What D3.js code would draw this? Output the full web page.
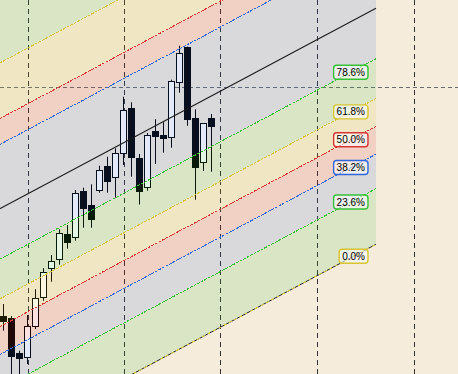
<!DOCTYPE html>
<html>
<head>
<meta charset="utf-8">
<script src="https://cdn.jsdelivr.net/npm/d3@7"></script>
<style>
  html, body { margin: 0; padding: 0; background: #f5ecdc; overflow: hidden; }
  svg { display: block; }
</style>
</head>
<body>
<svg id="chart"></svg>
<script>
// candles, one per bar (bar 0 is the left-most)
const opens  = [105.80, 105.63, 102.07, 101.73, 104.83, 107.75, 110.57, 111.55, 113.98, 113.73, 118.30, 116.88, 118.43, 120.77,
                119.67, 122.07, 126.57, 121.60, 118.67, 124.28, 123.90, 123.75, 129.25, 132.70, 125.58, 121.25, 125.60];
const closes = [105.33, 101.83, 101.57, 104.77, 107.57, 110.17, 111.27, 114.07, 113.15, 118.07, 116.63, 115.53, 120.37, 119.33,
                122.07, 126.40, 121.65, 118.33, 123.88, 123.85, 123.63, 129.30, 132.08, 125.53, 120.73, 125.07, 124.83];
const highs  = [107.00, 105.80, 102.33, 105.90, 108.48, 110.58, 111.90, 114.47, 114.90, 118.40, 118.63, 118.97, 120.83, 121.73,
                122.57, 127.73, 127.17, 122.00, 124.10, 125.48, 125.18, 129.43, 132.83, 132.75, 126.47, 125.10, 126.00];
const lows   = [104.33,  99.00,  99.20, 101.00, 104.50, 107.32, 109.23, 110.93, 112.53, 113.33, 114.63, 114.63, 118.13, 118.13,
                117.63, 120.90, 119.73, 116.95, 118.33, 121.00, 122.13, 122.63, 128.13, 124.82, 117.43, 120.30, 120.23];

// fib channel
const channelStart = { bar: 0, price: 93.12 };
const channelEnd   = { bar: 46.56, price: 112.97 };
const channelWidth = 23.6;
const levels      = [0, 0.236, 0.382, 0.5, 0.618, 0.786, 1, 1.272, 1.382, 1.618, 2.618];
const levelColors = ['#d6c430', '#36c036', '#3366d8', '#d83434', '#d6c430', '#36c036', '#3366d8', '#3366d8', '#d83434', '#d6c430', '#36c036'];
const labelLevels = [0, 0.236, 0.382, 0.5, 0.618, 0.786];

// grid
const gridBars   = [3, 15, 27, 39.22, 51.35];
const gridPrices = [128.67];

const width = 458, height = 374;

const svg = d3.select('#chart')
  .attr('width', width)
  .attr('height', height);

const x = d3.scaleLinear().domain([0, 56]).range([3.5, 3.5 + 56 * 8]);
const y = d3.scaleLinear().domain([100, 137.4]).range([height, 0]);

const slope = (channelEnd.price - channelStart.price) / (channelEnd.bar - channelStart.bar);
const levelPrice = (lev, bar) => channelStart.price + (bar - channelStart.bar) * slope + lev * channelWidth;
const leftBar = x.invert(-4);
const rightBar = channelEnd.bar;

svg.append('rect')
  .attr('width', width)
  .attr('height', height)
  .attr('fill', '#f5ecdc');

// grid lines
svg.selectAll('.vgrid')
  .data(gridBars)
  .enter().append('line')
  .attr('x1', d => Math.round(x(d)) + 0.5)
  .attr('x2', d => Math.round(x(d)) + 0.5)
  .attr('y1', 0)
  .attr('y2', height)
  .attr('stroke', '#333')
  .attr('stroke-dasharray', '5,4');

svg.selectAll('.hgrid')
  .data(gridPrices)
  .enter().append('line')
  .attr('x1', 0)
  .attr('x2', width)
  .attr('y1', d => Math.round(y(d)) + 0.5)
  .attr('y2', d => Math.round(y(d)) + 0.5)
  .attr('stroke', '#6a6a6a')
  .attr('stroke-dasharray', '4,3');

// candles
const bars = d3.range(opens.length);
const snap = v => Math.round(v) + 0.5;

svg.selectAll('.wick')
  .data(bars)
  .enter().append('line')
  .attr('x1', i => x(i))
  .attr('x2', i => x(i))
  .attr('y1', i => y(highs[i]))
  .attr('y2', i => y(lows[i]))
  .attr('stroke', '#000');

svg.selectAll('.body')
  .data(bars)
  .enter().append('rect')
  .attr('x', i => x(i) - 3)
  .attr('width', 6)
  .attr('y', i => snap(y(Math.max(opens[i], closes[i]))))
  .attr('height', i => Math.max(1, snap(y(Math.min(opens[i], closes[i]))) - snap(y(Math.max(opens[i], closes[i])))))
  .attr('fill', i => closes[i] >= opens[i] ? '#fff' : '#000')
  .attr('stroke', '#000');

// channel bands, over the candles
const bandData = d3.range(1, levels.length);
svg.selectAll('.band')
  .data(bandData)
  .enter().append('path')
  .attr('d', k => {
    const lo = levels[k - 1], hi = levels[k];
    const pts = [
      [x(leftBar), y(levelPrice(lo, leftBar))],
      [x(rightBar), y(levelPrice(lo, rightBar))],
      [x(rightBar), y(levelPrice(hi, rightBar))],
      [x(leftBar), y(levelPrice(hi, leftBar))]
    ];
    return 'M' + pts.join('L') + 'Z';
  })
  .attr('fill', k => levelColors[k])
  .attr('fill-opacity', 0.14);

// level lines
const line = d3.line().x(d => x(d[0])).y(d => y(d[1]));
levels.forEach((lev, k) => {
  if (lev === 1) return;
  const pts = [[leftBar, levelPrice(lev, leftBar)], [rightBar, levelPrice(lev, rightBar)]];
  if (lev === 0) {
    svg.append('path')
      .attr('d', line(pts))
      .attr('stroke', '#222')
      .attr('fill', 'none');
  }
  svg.append('path')
    .attr('d', line(pts))
    .attr('stroke', levelColors[k])
    .attr('stroke-dasharray', lev === 0 ? '3,3' : '3,1')
    .attr('shape-rendering', 'crispEdges')
    .attr('fill', 'none');
});

// trend line at 100%
svg.append('path')
  .attr('d', line([[leftBar, levelPrice(1, leftBar)], [rightBar, levelPrice(1, rightBar)]]))
  .attr('stroke', '#1a1a1a')
  .attr('stroke-width', 1.1)
  .attr('fill', 'none');

// labels
const labelRight = x(rightBar - 1);
labelLevels.forEach(lev => {
  const col = levelColors[levels.indexOf(lev)];
  const g = svg.append('g');
  const box = g.append('rect');
  const txt = g.append('text')
    .text((lev * 100).toFixed(1) + '%')
    .attr('font-family', '"Liberation Sans", Arial, sans-serif')
    .attr('font-size', 10)
    .attr('fill', '#000');
  const w = txt.node().getComputedTextLength() + 6;
  const cx = labelRight - w / 2;
  const cy = y(levelPrice(lev, x.invert(cx)));
  box.attr('x', labelRight - w)
    .attr('y', cy - 7)
    .attr('width', w)
    .attr('height', 14)
    .attr('rx', 3)
    .attr('fill', '#fff')
    .attr('fill-opacity', 0.55)
    .attr('stroke', col)
    .attr('stroke-width', 1.4);
  txt.attr('x', labelRight - 3)
    .attr('y', cy + 3.6)
    .attr('text-anchor', 'end');
});
</script>
</body>
</html>
